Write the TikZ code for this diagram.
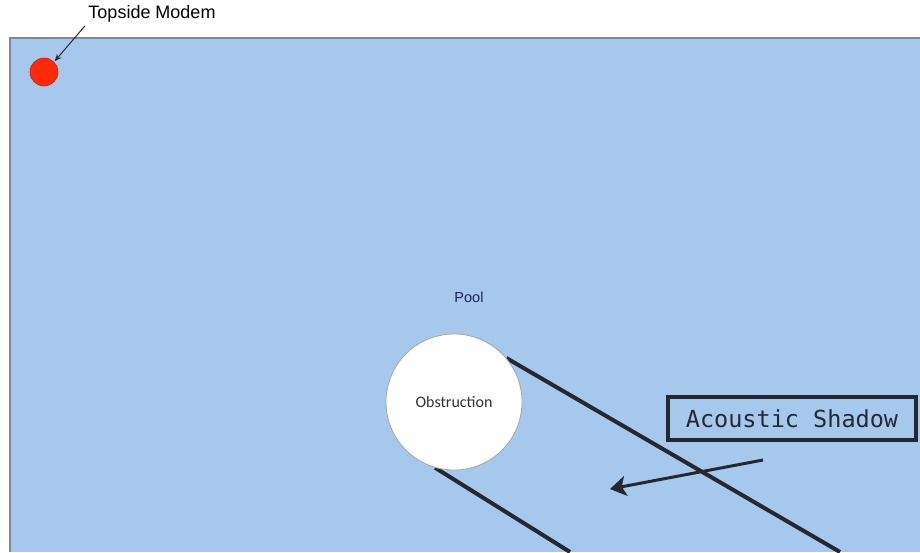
\documentclass[tikz,border=0pt]{standalone}
\usepackage{fontspec}
\setmainfont{Liberation Sans}
\setmonofont{DejaVu Sans Mono}
\newfontfamily\bodyfont{Carlito}
\usepackage{tikz}
\usetikzlibrary{positioning}
\usetikzlibrary{arrows.meta}

\pgfdeclarelayer{behind}
\pgfsetlayers{behind,main}

\definecolor{poolblue}{RGB}{167,200,237}
\definecolor{poolrim}{RGB}{125,137,152}
\definecolor{modemred}{RGB}{252,42,8}
\definecolor{inkdark}{RGB}{36,40,50}

\tikzset{
  shadowline/.style={line width=4pt, inkdark},
  modemdot/.style={circle, fill=modemred, draw=modemred!80!black, line width=0.6pt, minimum size=28pt, inner sep=0pt},
  obstacle/.style={circle, fill=white, draw=black!35, line width=0.8pt, minimum size=136pt, inner sep=0pt}
}

\begin{document}
\begin{tikzpicture}[x=1pt, y=-1pt]
  \useasboundingbox (0,0) rectangle (920,552);

  % the pool
  \begin{pgfonlayer}{behind}
    \fill[poolblue] (10,38) rectangle (920,552);
    \draw[poolrim, line width=2pt] (10,552) -- (10,38) -- (920,38);
  \end{pgfonlayer}

  \node at (152,14) (toplabel) { \fontsize{18}{20}\selectfont Topside Modem };
  \node[modemdot] at (44,72) (modem) {};
  \draw[-{Stealth[length=7pt, width=6pt]}, line width=1pt, inkdark, shorten >=1pt] (toplabel.south west) -- (modem.north east);

  \node at (469,297) (pool) { \fontsize{14.5}{16}\selectfont\color{inkdark!80!blue} Pool };

  % shadow behind the obstruction
  \node[obstacle] at (454,402) (obst) { \bodyfont\fontsize{16}{18}\selectfont\color{black!80} Obstruction };
  \coordinate (upperend) at (840,552);
  \coordinate (lowerend) at (570,552);
  \begin{pgfonlayer}{behind}
    \draw[shadowline] (obst.40) -- (upperend);
    \draw[shadowline] (obst.-106) -- (lowerend);
  \end{pgfonlayer}

  \node[draw=inkdark, line width=3.5pt, minimum width=248pt, minimum height=43pt, inner sep=0pt] at (792,418.5) (shadow)
    { \ttfamily\fontsize{23.5}{26}\selectfont\color{inkdark} Acoustic Shadow };
  \coordinate (tail) at (763,460);
  \coordinate (head) at (610,489);
  \draw[-{Stealth[length=16pt, width=20pt, inset=4pt]}, line width=3pt, inkdark] (tail) -- (head);
\end{tikzpicture}
\end{document}
